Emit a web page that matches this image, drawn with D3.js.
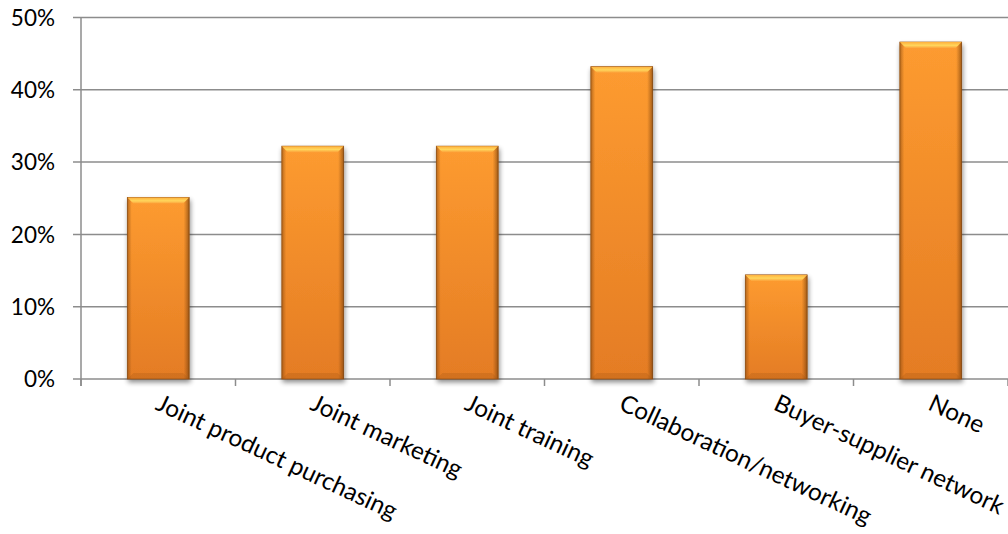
<!DOCTYPE html>
<html>
<head>
<meta charset="utf-8">
<script src="https://cdn.jsdelivr.net/npm/d3@7"></script>
<style>
  html, body { margin: 0; padding: 0; background: #fff; }
  svg { display: block; }
  text { font-family: Lato, "Open Sans", sans-serif; fill: #000; }
</style>
</head>
<body>
<svg id="chart" width="1008" height="534"></svg>
<script>
// Share of respondents per type of cooperation
const categories = ["Joint product purchasing", "Joint marketing", "Joint training",
                    "Collaboration/networking", "Buyer-supplier network", "None"];
const shares = [0.251, 0.322, 0.322, 0.432, 0.144, 0.466];
const yTicks = [0, 0.1, 0.2, 0.3, 0.4, 0.5];

const svg = d3.select("#chart");
const plotLeft = 81, plotRight = 1008, plotTop = 17.5, plotBottom = 379;

const x = d3.scaleBand().domain(categories).range([plotLeft, plotRight])
  .paddingInner(0.6).paddingOuter(0.3);
const y = d3.scaleLinear().domain([0, 0.5]).range([plotBottom, plotTop]);

const defs = svg.append("defs");

// Body gradient: bright orange at top fading to a deeper orange below
const body = defs.append("linearGradient").attr("id", "body").attr("x1", 0).attr("y1", 0).attr("x2", 0).attr("y2", 1);
body.append("stop").attr("offset", "0%").attr("stop-color", "#FD9B30");
body.append("stop").attr("offset", "100%").attr("stop-color", "#E47C24");

// Side shading for the rounded-edge look
const sides = defs.append("linearGradient").attr("id", "sides").attr("x1", 0).attr("y1", 0).attr("x2", 1).attr("y2", 0);
sides.append("stop").attr("offset", "0%").attr("stop-color", "#8a4a10").attr("stop-opacity", 0.6);
sides.append("stop").attr("offset", "7%").attr("stop-color", "#8a4a10").attr("stop-opacity", 0.0);
sides.append("stop").attr("offset", "91%").attr("stop-color", "#8a4a10").attr("stop-opacity", 0.0);
sides.append("stop").attr("offset", "100%").attr("stop-color", "#6e3a0a").attr("stop-opacity", 0.65);

const bevelTop = defs.append("linearGradient").attr("id", "bevelTop").attr("x1", 0).attr("y1", 0).attr("x2", 0).attr("y2", 1);
bevelTop.append("stop").attr("offset", "0%").attr("stop-color", "#FFB03C");
bevelTop.append("stop").attr("offset", "55%").attr("stop-color", "#FFD65C");
bevelTop.append("stop").attr("offset", "100%").attr("stop-color", "#FCA23A");

const shadow = defs.append("filter").attr("id", "shadow")
  .attr("x", "-20%").attr("y", "-10%").attr("width", "140%").attr("height", "130%");
shadow.append("feGaussianBlur").attr("in", "SourceAlpha").attr("stdDeviation", 2.5).attr("result", "b");
shadow.append("feOffset").attr("in", "b").attr("dx", 1).attr("dy", 3).attr("result", "o");
shadow.append("feComponentTransfer").attr("in", "o").attr("result", "s")
  .append("feFuncA").attr("type", "linear").attr("slope", 0.45);
const merge = shadow.append("feMerge");
merge.append("feMergeNode").attr("in", "s");
merge.append("feMergeNode").attr("in", "SourceGraphic");

// Horizontal gridlines with small tick stubs on the left
svg.append("g").selectAll("line").data(yTicks).join("line")
  .attr("x1", plotLeft - 8).attr("x2", plotRight)
  .attr("y1", d => y(d)).attr("y2", d => y(d))
  .attr("stroke", "#8c8c8c").attr("stroke-width", 1.5);

// Value axis line
svg.append("line").attr("x1", plotLeft).attr("x2", plotLeft).attr("y1", plotTop).attr("y2", plotBottom + 7)
  .attr("stroke", "#8c8c8c").attr("stroke-width", 1.5);

// Category tick marks between bands
const step = x.step();
svg.append("g").selectAll("line").data(d3.range(categories.length + 1)).join("line")
  .attr("x1", i => plotLeft + i * step).attr("x2", i => plotLeft + i * step)
  .attr("y1", plotBottom).attr("y2", plotBottom + 7)
  .attr("stroke", "#8c8c8c").attr("stroke-width", 1.5);

// Y tick labels
svg.append("g").selectAll("text").data(yTicks).join("text")
  .attr("x", 55).attr("y", d => y(d)).attr("dy", "0.36em")
  .attr("text-anchor", "end").attr("font-size", 22.5)
  .text(d3.format(".0%"));

// Bars
const bw = x.bandwidth();
const bars = svg.append("g").selectAll("g").data(categories.map((c, i) => ({ c, v: shares[i] }))).join("g");

bars.append("rect")
  .attr("x", d => x(d.c)).attr("y", d => y(d.v))
  .attr("width", bw).attr("height", d => y(0) - y(d.v))
  .attr("fill", "url(#body)").attr("stroke", "#8f4e12").attr("stroke-width", 0.8)
  .attr("filter", "url(#shadow)");

bars.append("rect")
  .attr("x", d => x(d.c)).attr("y", d => y(d.v))
  .attr("width", bw).attr("height", d => y(0) - y(d.v))
  .attr("fill", "url(#sides)");

const bev = 6;
bars.append("path")
  .attr("d", d => {
    const x0 = x(d.c), x1 = x0 + bw, t = y(d.v);
    return `M${x0},${t}L${x1},${t}L${x1 - bev},${t + bev}L${x0 + bev},${t + bev}Z`;
  })
  .attr("fill", "url(#bevelTop)");

bars.append("path")
  .attr("d", d => {
    const x0 = x(d.c), x1 = x0 + bw, b = y(0);
    return `M${x0},${b}L${x1},${b}L${x1 - bev},${b - bev}L${x0 + bev},${b - bev}Z`;
  })
  .attr("fill", "#A85A18").attr("opacity", 0.3);

// Slanted category labels
svg.append("g").selectAll("text").data(categories).join("text")
  .attr("transform", d => `translate(${x(d) + bw / 2 - 4},${plotBottom + 30}) rotate(25)`)
  .attr("font-size", 24.3)
  .text(d => d);
</script>
</body>
</html>
